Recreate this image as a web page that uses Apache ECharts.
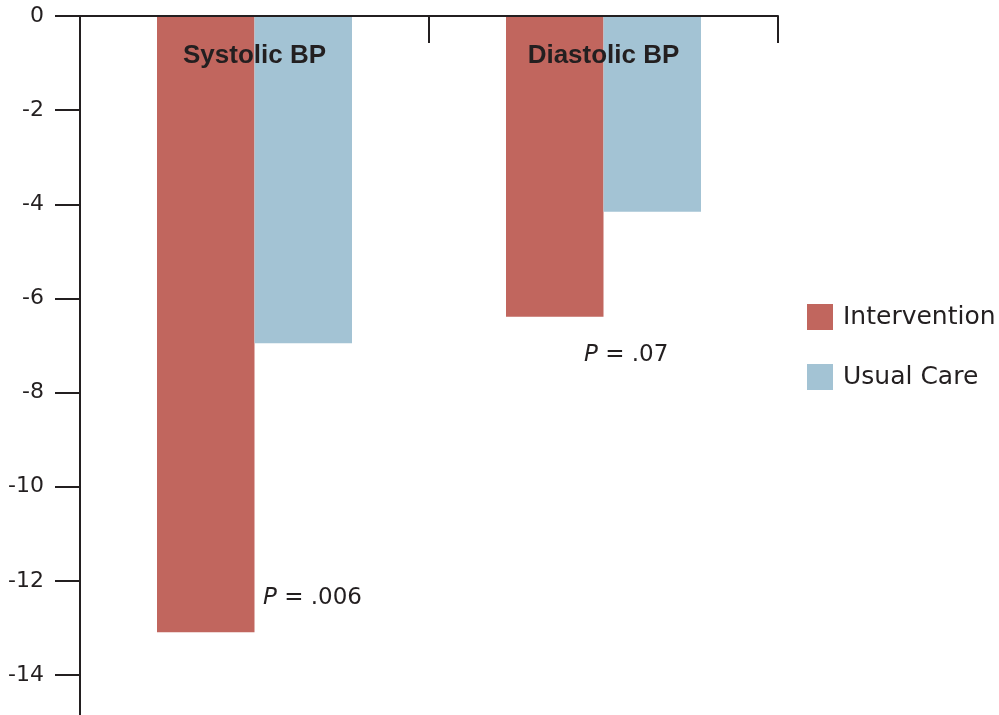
<!DOCTYPE html>
<html>
<head>
<meta charset="utf-8">
<script src="https://cdn.jsdelivr.net/npm/echarts@6/dist/echarts.min.js"></script>
<style>html,body{margin:0;padding:0;background:#fff;}#c{width:999px;height:715px;}</style>
</head>
<body>
<div id="c"></div>
<script>
var categories = ['Systolic BP', 'Diastolic BP'];
var intervention = [-13.09, -6.39];
var usualCare = [-6.95, -4.16];
var pLabels = ['.006', '.07'];
var pValuesY = [-12.36, -7.2];
var yTicks = [0, -2, -4, -6, -8, -10, -12, -14];

var ink = '#231F20';
var chart = echarts.init(document.getElementById('c'));
chart.setOption({
  backgroundColor: '#fff',
  animation: false,
  grid: { left: 80, right: 221, top: 16, bottom: 0, containLabel: false },
  legend: {
    orient: 'vertical', left: 807, top: 304, padding: 0,
    icon: 'rect', itemWidth: 26, itemHeight: 26, itemGap: 34,
    textStyle: { fontFamily: 'DejaVu Sans', fontSize: 25, color: ink, padding: [0, 0, 0, 5] },
    data: ['Intervention', 'Usual Care']
  },
  xAxis: {
    type: 'category', position: 'top', data: categories,
    axisLine: { show: true, lineStyle: { color: ink, width: 2 } },
    axisTick: { show: true, inside: true, length: 27, lineStyle: { color: ink, width: 2 } },
    axisLabel: { inside: true, margin: 27, fontFamily: 'Liberation Sans', fontWeight: 'bold', fontSize: 26, color: ink },
    splitLine: { show: false },
    z: 10
  },
  yAxis: {
    type: 'value', min: -14.85, max: 0, interval: 2,
    axisLine: { show: true, onZero: false, lineStyle: { color: ink, width: 2 } },
    axisTick: { show: true, length: 25, lineStyle: { color: ink, width: 2 }, customValues: yTicks },
    axisLabel: { margin: 36, fontFamily: 'DejaVu Sans', fontSize: 22, color: ink, customValues: yTicks },
    splitLine: { show: false }
  },
  series: [
    { name: 'Intervention', type: 'bar', data: intervention, barWidth: 97.5, barGap: '0%', itemStyle: { color: '#C1665E' }, z: 1 },
    { name: 'Usual Care', type: 'bar', data: usualCare, barWidth: 97.5, barGap: '0%', itemStyle: { color: '#A3C3D4' }, z: 1 },
    {
      type: 'scatter', symbolSize: 1, silent: true, z: 5,
      itemStyle: { color: 'rgba(0,0,0,0)', opacity: 1 },
      data: [
        { value: [categories[0], pValuesY[0]], label: { offset: [8, 0] }, p: pLabels[0] },
        { value: [categories[1], pValuesY[1]], label: { offset: [-20, 0] }, p: pLabels[1] }
      ],
      label: {
        show: true, position: 'right', distance: 0, align: 'left', verticalAlign: 'middle',
        color: ink, opacity: 1,
        formatter: function (d) { return '{i|P}{n| = ' + d.data.p + '}'; },
        rich: {
          i: { fontStyle: 'italic', fontFamily: 'DejaVu Sans', fontSize: 23, color: ink },
          n: { fontFamily: 'DejaVu Sans', fontSize: 23, color: ink }
        }
      }
    }
  ]
});
</script>
</body>
</html>
